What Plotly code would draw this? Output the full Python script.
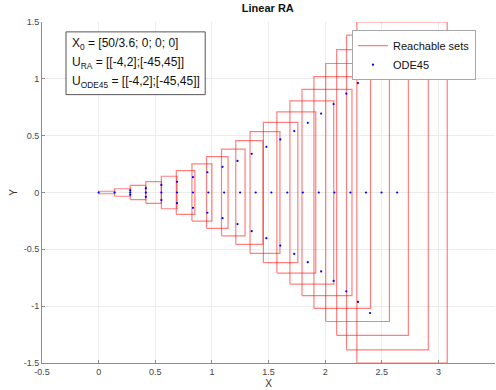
import plotly.graph_objects as go

# Reachable set boxes (interval hulls): x-range and symmetric half-height in y
box_xmin = [0.0, 0.141, 0.279, 0.417, 0.554, 0.686, 0.824, 0.953, 1.085, 1.211,
            1.337, 1.455, 1.574, 1.689, 1.796, 1.901, 2.005, 2.102, 2.189, 2.280]
box_xmax = [0.141, 0.279, 0.415, 0.554, 0.692, 0.850, 1.000, 1.143, 1.293, 1.451,
            1.601, 1.759, 1.917, 2.076, 2.237, 2.401, 2.568, 2.735, 2.911, 3.078]
box_half = [0.011, 0.033, 0.062, 0.095, 0.143, 0.192, 0.251, 0.315, 0.381, 0.456,
            0.536, 0.617, 0.709, 0.806, 0.907, 1.019, 1.135, 1.257, 1.385, 1.5]

# ODE45 points
center_x = [0.0, 0.141, 0.279, 0.417, 0.554, 0.692, 0.833, 0.969, 1.108, 1.249,
            1.387, 1.525, 1.666, 1.803, 1.944, 2.082, 2.223, 2.361, 2.498, 2.636]
turn_x = [0.279, 0.417, 0.554, 0.692, 0.833, 0.960, 1.094, 1.226, 1.352, 1.481,
          1.604, 1.727, 1.847, 1.965, 2.075, 2.187, 2.290, 2.396]
turn_y = [0.02, 0.038, 0.067, 0.094, 0.135, 0.178, 0.226, 0.278, 0.34, 0.402,
          0.467, 0.54, 0.613, 0.694, 0.778, 0.869, 0.963, 1.06]

x_ticks = [-0.5, 0, 0.5, 1, 1.5, 2, 2.5, 3, 3.5]
y_ticks = [-1.5, -1, -0.5, 0, 0.5, 1, 1.5]

info_lines = ["X<sub>0</sub> = [50/3.6; 0; 0; 0]",
              "U<sub>RA</sub> = [[-4,2];[-45,45]]",
              "U<sub>ODE45</sub> = [[-4,2];[-45,45]]"]

bx, by = [], []
for x0, x1, h in zip(box_xmin, box_xmax, box_half):
    bx += [x0, x1, x1, x0, x0, None]
    by += [-h, -h, h, h, -h, None]

ox = center_x + turn_x + turn_x
oy = [0.0] * len(center_x) + turn_y + [-v for v in turn_y]

fig = go.Figure()
fig.add_trace(go.Scatter(x=bx, y=by, mode="lines", name="Reachable sets",
                         line=dict(color="rgba(255,0,0,0.5)", width=1.2)))
fig.add_trace(go.Scatter(x=ox, y=oy, mode="markers", name="ODE45",
                         marker=dict(color="rgb(0,0,255)", size=2.2)))

font = "Liberation Sans, Arial, Helvetica, sans-serif"
axis_common = dict(showgrid=True, gridcolor="#ececec", gridwidth=1,
                   showline=True, linecolor="#8c8c8c", linewidth=1,
                   ticks="inside", ticklen=3, tickcolor="#8c8c8c",
                   zeroline=False, tickfont=dict(size=9, color="#444"),
                   mirror=False, automargin=False)
fig.update_layout(
    width=496, height=390,
    margin=dict(l=42, r=1, t=22, b=27, autoexpand=False),
    paper_bgcolor="white", plot_bgcolor="white",
    font=dict(family=font, color="#222"),
    title=dict(text="<b>Linear RA</b>", x=0.54, xanchor="center", y=0.988,
               yanchor="top", font=dict(size=11, color="#111")),
    xaxis=dict(range=[-0.5, 3.5], tickvals=x_ticks,
               ticktext=[str(v) for v in x_ticks],
               title=dict(text="X", font=dict(size=10, color="#333"), standoff=4),
               **axis_common),
    yaxis=dict(range=[-1.5, 1.5], tickvals=y_ticks,
               ticktext=[str(v) for v in y_ticks],
               title=dict(text="Y", font=dict(size=10, color="#333"), standoff=4),
               **axis_common),
    legend=dict(x=0.958, y=0.976, xanchor="right", yanchor="top",
                bgcolor="white", bordercolor="#a8a8a8", borderwidth=1,
                font=dict(size=11, color="#111"), itemwidth=30,
                tracegroupgap=0),
    showlegend=True,
)

# bordered info box (paper coordinates)
fig.add_shape(type="rect", xref="paper", yref="paper",
              x0=0.053, x1=0.3603, y0=0.787, y1=0.971,
              line=dict(color="#555", width=1), fillcolor="white", layer="above")
line_y = [0.935, 0.879, 0.823]
for txt, yy in zip(info_lines, line_y):
    fig.add_annotation(xref="paper", yref="paper", x=0.061, y=yy,
                       xanchor="left", yanchor="middle", text=txt,
                       showarrow=False, align="left",
                       font=dict(size=12, color="#111"))
fig.write_html("out.html")
